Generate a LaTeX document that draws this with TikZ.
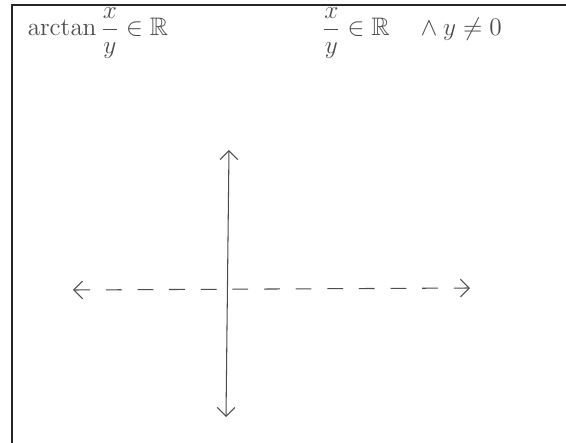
\documentclass[tikz,border=0pt]{standalone}
\usepackage{amsmath,amssymb}
\usetikzlibrary{arrows.meta}
\colorlet{pencil}{black!70}
\begin{document}
\begin{tikzpicture}[x=0.02cm,y=-0.02cm,every node/.style={font=\Large,text=pencil},
    axis/.style={{Straight Barb[length=5pt]}-{Straight Barb[length=5pt]},semithick,pencil}]
    \useasboundingbox (0,0) rectangle (566,443);
    % frame of the sheet
    \draw[line width=1.4pt,black!85] (566,5) -- (12,5) -- (12,443);
    \node (lhs) at (98,33) {$\arctan\dfrac{x}{y}\in\mathbb{R}$};
    \node (rhs) at (412,33) {$\dfrac{x}{y}\in\mathbb{R}\quad\wedge y\neq 0$};
    \coordinate (ytop) at (229,150);
    \coordinate (ybot) at (226,417);
    \coordinate (xleft) at (73,290);
    \coordinate (xright) at (470,288);
    \draw[axis] (ybot) -- (ytop);
    \draw[axis,dash pattern=on 9pt off 9pt] (xleft) -- (xright);
  \end{tikzpicture}
\end{document}
